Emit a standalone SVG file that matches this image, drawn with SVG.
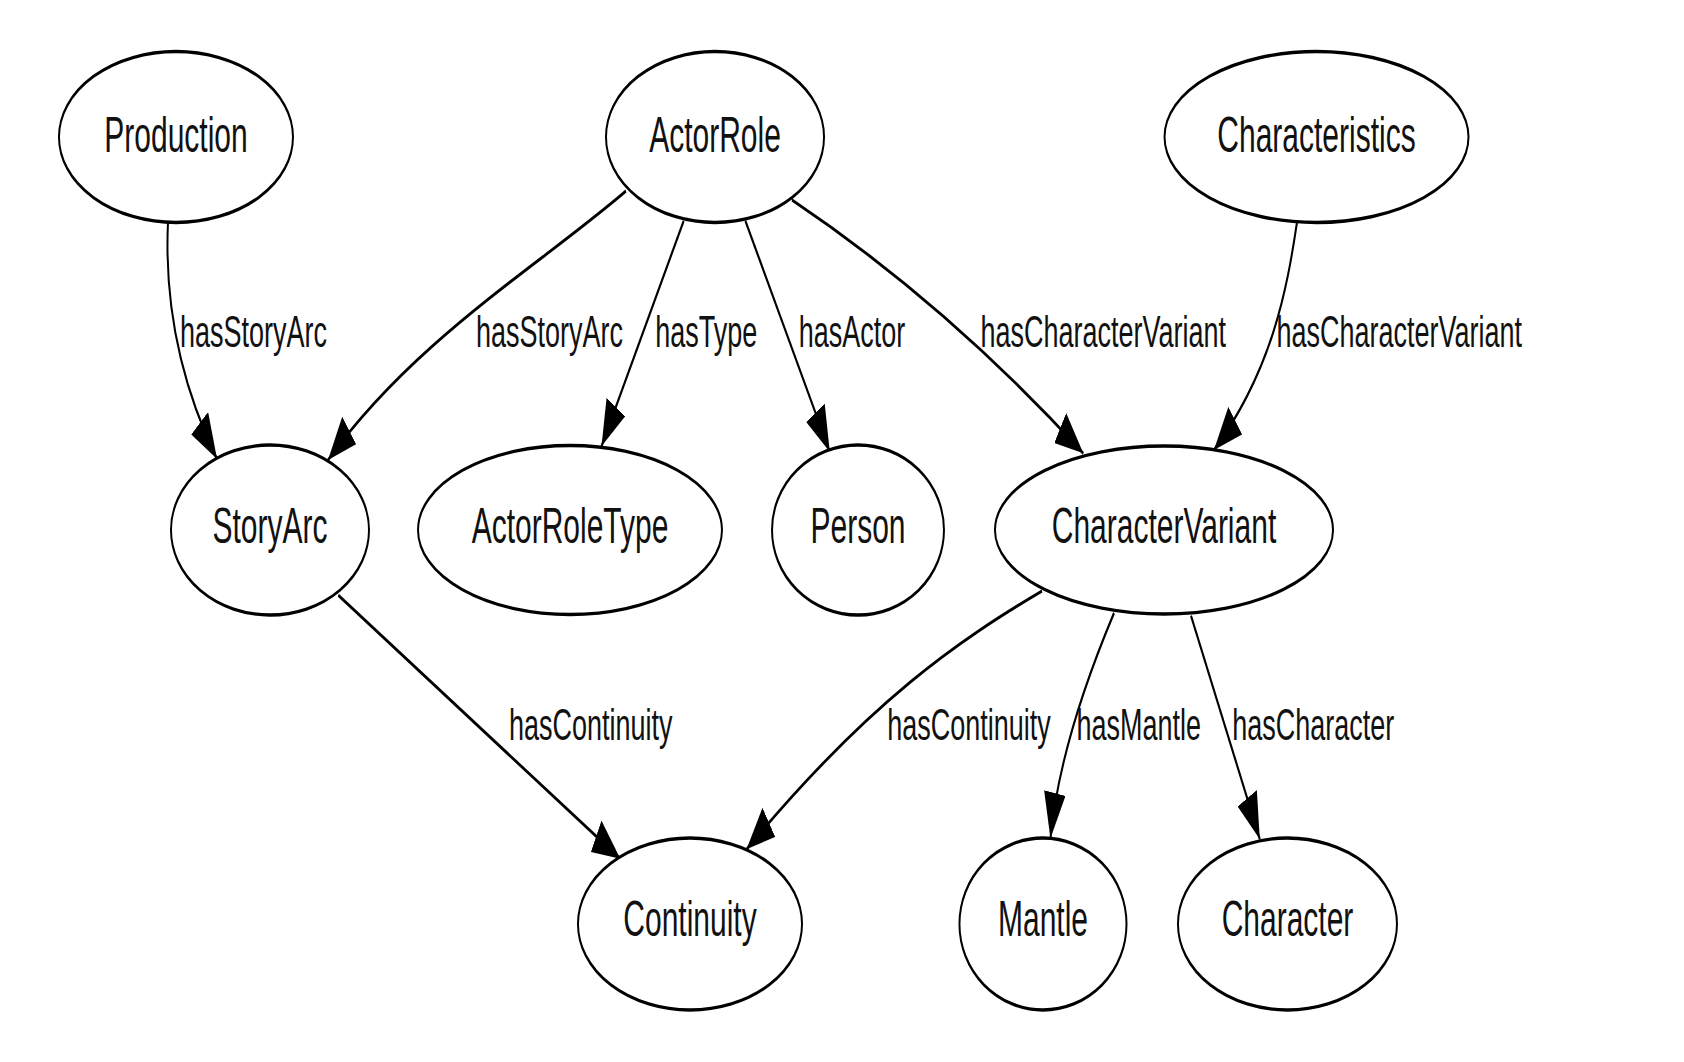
<svg xmlns="http://www.w3.org/2000/svg" width="1684" height="1062" viewBox="0 0 1684 1062">
<defs>
<style>
.node ellipse{fill:#ffffff;stroke:#000000;stroke-width:3.3}
.node text{font-family:"Liberation Sans",Arial,sans-serif;font-size:50px;fill:#111111;text-anchor:middle}
.edge{fill:none;stroke:#000000;stroke-width:3.3;marker-end:url(#arr)}
.elabel{font-family:"Liberation Sans",Arial,sans-serif;font-size:45px;fill:#111111;text-anchor:middle}
</style>
<marker id="arr" viewBox="0 0 46 36" refX="46" refY="18" markerWidth="46" markerHeight="36" markerUnits="userSpaceOnUse" orient="auto">
<path d="M0,0 L46,18 L0,36 z" fill="#000000"/>
</marker>
</defs>
<rect x="0" y="0" width="1684" height="1062" fill="#ffffff"/>
<g transform="scale(0.6,1)">
<g id="connectors">
<path class="edge" d="M280,222 C274,300 298,380 361.7,459"/>
<path class="edge" d="M1043.3,191 C900,265 690,340 546.7,460"/>
<path class="edge" d="M1139.5,220.8 L1002.5,446.3"/>
<path class="edge" d="M1242.3,220.8 L1383,452"/>
<path class="edge" d="M1320,200 Q1580,305 1805.5,453.3"/>
<path class="edge" d="M2161.7,222 C2145,290 2120,370 2023.3,450"/>
<path class="edge" d="M563.8,595.3 L1033.8,858.8"/>
<path class="edge" d="M1736.7,591 C1600,640 1450,700 1244.2,849.3"/>
<path class="edge" d="M1856.7,613 C1813.3,675 1763.3,760 1750.7,838.5"/>
<path class="edge" d="M1985,615.7 L2099.7,839.2"/>
<text class="elabel" x="422.5" y="347">hasStoryArc</text>
<text class="elabel" x="915.7" y="347">hasStoryArc</text>
<text class="elabel" x="1177" y="347">hasType</text>
<text class="elabel" x="1420" y="347">hasActor</text>
<text class="elabel" x="1838.8" y="347">hasCharacterVariant</text>
<text class="elabel" x="2332" y="347">hasCharacterVariant</text>
<text class="elabel" x="984.6" y="740">hasContinuity</text>
<text class="elabel" x="1615" y="740">hasContinuity</text>
<text class="elabel" x="1897.8" y="740">hasMantle</text>
<text class="elabel" x="2188.8" y="740">hasCharacter</text>
</g>
<g id="node-production" class="node"><ellipse cx="293.3" cy="137" rx="195" ry="85.5"/><text x="293.3" y="152">Production</text></g>
<g id="node-actorrole" class="node"><ellipse cx="1191.7" cy="137" rx="181.7" ry="85.5"/><text x="1191.7" y="152">ActorRole</text></g>
<g id="node-characteristics" class="node"><ellipse cx="2194.2" cy="137" rx="253.3" ry="85.5"/><text x="2194.2" y="152">Characteristics</text></g>
<g id="node-storyarc" class="node"><ellipse cx="450" cy="530" rx="165" ry="85"/><text x="450" y="543">StoryArc</text></g>
<g id="node-actorroletype" class="node"><ellipse cx="950" cy="530" rx="253.3" ry="84.5"/><text x="950" y="543">ActorRoleType</text></g>
<g id="node-person" class="node"><ellipse cx="1430" cy="530" rx="143.3" ry="85"/><text x="1430" y="543">Person</text></g>
<g id="node-charactervariant" class="node"><ellipse cx="1940" cy="530" rx="281.7" ry="84"/><text x="1940" y="543">CharacterVariant</text></g>
<g id="node-continuity" class="node"><ellipse cx="1150" cy="924" rx="186.7" ry="86"/><text x="1150" y="936">Continuity</text></g>
<g id="node-mantle" class="node"><ellipse cx="1738.3" cy="924" rx="139.2" ry="86"/><text x="1738.3" y="936">Mantle</text></g>
<g id="node-character" class="node"><ellipse cx="2145.8" cy="924" rx="182.5" ry="86"/><text x="2145.8" y="936">Character</text></g>
</g>
</svg>
